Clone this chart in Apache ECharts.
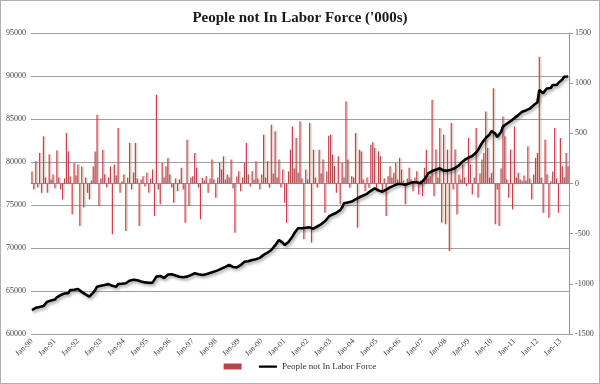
<!DOCTYPE html>
<html><head><meta charset="utf-8">
<script src="https://cdn.jsdelivr.net/npm/echarts@6/dist/echarts.min.js"></script>
<style>html,body{margin:0;padding:0;background:#fff}#c{width:598px;height:382px;border:1px solid #b0b0b0}</style>
</head><body><div id="c"></div>
<script>
var title = "People not In Labor Force ('000s)";
var lineName = "People not In Labor Force";
var monthNames = ["Jan","Feb","Mar","Apr","May","Jun","Jul","Aug","Sep","Oct","Nov","Dec"];
var years = ["90","91","92","93","94","95","96","97","98","99","00","01","02","03","04","05","06","07","08","09","10","11","12","13"];
var leftTicks = {min:60000, max:95000, interval:5000};
var rightTicks = {min:-1500, max:1500, interval:500};

// Level ('000s), Jan-90 .. May-13
var level = [
62790,62900,63050,63000,63150,63300,63250,63450,63760,63700,63900,64050,
64000,64250,64180,64530,64450,64700,64800,64750,65120,65000,65150,65300,
65230,65050,64900,64700,64600,64450,64340,64500,64800,65100,65500,65350,
65600,65750,65700,65930,65800,65850,65600,65750,65500,65800,65900,65850,
65950,65900,66080,66200,66150,66300,66400,66250,66300,66100,65930,66000,
66050,65950,65900,65970,65900,66670,66600,66750,66550,66510,66700,66900,
67090,66950,66850,66800,66700,66650,66480,66600,66550,66670,66750,66850,
66900,67060,67000,66950,66900,66850,66860,66950,67050,67100,67200,67250,
67350,67400,67550,67600,67700,67800,67850,68020,67900,67800,67640,67750,
67900,68000,68150,68410,68350,68450,68550,68600,68650,68700,68800,68850,
69000,69200,69300,69450,69550,69770,70000,70300,70600,70930,70800,70600,
70350,70500,70700,70930,71300,71700,72000,72290,72150,72300,72100,72350,
72480,72400,72300,72250,72330,72500,72600,72750,72910,73100,73350,73640,
73700,73900,74000,74100,74230,74400,74700,75200,75100,75300,75350,75400,
75580,75650,75750,75900,76000,76100,76170,76300,76500,76650,76800,76940,
76850,76700,76650,76550,76700,76800,76950,77050,77130,77250,77350,77440,
77500,77450,77400,77350,77440,77500,77600,77650,77710,77650,77600,77520,
77700,78000,78300,78680,78880,78950,79000,79100,79200,79270,79150,79000,
78880,79000,78950,79100,79250,79300,79460,79600,79850,80050,80250,80430,
80500,80600,80700,80820,81100,81400,81800,82180,82500,82800,83000,83200,
83600,83750,83300,82900,82760,83500,84110,84300,84450,84550,84750,84890,
85100,85300,85450,85650,85850,85900,86000,86050,86200,86350,86600,86830,
86950,88380,88250,87990,88300,88550,88400,88600,88960,88760,88950,89200,
89400,89600,89920,89850,89950
];

// Monthly change ('000s)
var change = [
120,-60,222,-40,305,-93,470,60,-93,288,40,90,
-50,330,60,-60,-160,50,503,320,70,-308,205,80,
190,-424,170,-240,60,-93,-160,30,170,320,685,-225,
50,337,90,-40,60,170,-506,190,80,553,-93,20,
90,-473,60,404,-60,110,404,50,-424,40,73,-30,
106,-93,50,139,-324,884,-60,-208,205,60,172,255,
90,-40,-192,50,-76,40,156,-60,-391,437,-225,60,
73,305,156,-40,-357,56,30,73,-93,50,238,40,
-142,60,205,139,271,40,89,60,238,-50,-490,70,
122,-76,60,205,404,89,-30,122,40,222,50,-60,
90,487,60,222,-43,586,100,520,60,238,-40,139,
-192,-391,120,337,569,150,453,106,619,50,-556,139,
40,602,-589,337,60,-43,337,100,238,-291,120,477,
487,288,172,-93,271,-208,205,60,818,238,-43,73,
60,503,-440,337,320,40,-76,60,-43,387,410,354,
-76,320,271,-93,50,-324,73,172,60,106,205,40,
255,139,30,-208,50,156,40,-76,60,122,-109,30,
-126,156,337,50,73,834,-126,338,60,553,-390,487,
-407,338,-672,602,-60,338,-308,89,40,189,60,-26,
453,189,-109,60,553,-142,100,238,305,718,354,60,
106,950,-407,-60,-424,150,669,470,40,-142,338,-258,
569,60,106,40,23,80,30,371,50,-159,90,255,
305,1264,60,-291,437,90,-341,23,120,553,50,-291,
453,172,60,305,172
];

var categories = [];
for (var y = 0; y < years.length; y++) {
  for (var m = 0; m < 12; m++) {
    if (categories.length < level.length) categories.push(monthNames[m] + "-" + years[y]);
  }
}

var serif = "'Liberation Serif', 'DejaVu Serif', serif";
var plain = function (v) { return String(v); };
var chart = echarts.init(document.getElementById('c'), null, {renderer:'canvas'});
chart.setOption({
  animation: false,
  backgroundColor: '#fff',
  title: {text: title, left: 'center', top: 5,
    textStyle: {fontFamily: serif, fontSize: 15, fontWeight: 'bold', color: '#1a1a1a'}},
  grid: {left: 30, right: 30, top: 32, bottom: 49, containLabel: false},
  legend: {
    bottom: 7, left: 'center', itemGap: 10, itemWidth: 18, itemHeight: 6,
    textStyle: {fontFamily: serif, fontSize: 9, color: '#333'},
    data: [
      {name: ' ', icon: 'rect', itemStyle: {color: '#b3474c'}},
      {name: lineName, icon: 'path://M0,0h0.01v0.01h-0.01z M0,2h20v2.4h-20z M19.99,5.99h0.01v0.01h-0.01z',
        itemStyle: {color: '#000', borderWidth: 0}}
    ]
  },
  xAxis: {
    type: 'category', data: categories, boundaryGap: true,
    axisLine: {lineStyle: {color: '#999'}},
    axisTick: {show: false},
    axisLabel: {
      interval: function (idx) { return idx % 12 === 0; },
      rotate: 45, fontFamily: serif, fontSize: 8, color: '#444', margin: 6
    }
  },
  yAxis: [
    {type: 'value', min: leftTicks.min, max: leftTicks.max, interval: leftTicks.interval,
      axisLine: {show: false}, axisTick: {show: false},
      splitLine: {lineStyle: {color: '#a0a0a0', width: 1}},
      axisLabel: {fontFamily: serif, fontSize: 8, color: '#444', margin: 5, formatter: plain}},
    {type: 'value', min: rightTicks.min, max: rightTicks.max, interval: rightTicks.interval,
      position: 'right',
      axisLine: {show: true, lineStyle: {color: '#999'}},
      axisTick: {show: true, length: 4, lineStyle: {color: '#999'}},
      splitLine: {show: false},
      axisLabel: {fontFamily: serif, fontSize: 8, color: '#444', margin: 6, formatter: plain}}
  ],
  series: [
    {name: ' ', type: 'bar', yAxisIndex: 1, data: change, barWidth: 1.2,
      itemStyle: {color: '#b3474c', shadowColor: 'rgba(200,120,120,0.45)', shadowBlur: 1, shadowOffsetX: 1.5}},
    {name: lineName, type: 'line', yAxisIndex: 0, data: level, symbol: 'none', z: 5,
      lineStyle: {color: '#000', width: 2.6, shadowColor: 'rgba(0,0,0,0.35)', shadowBlur: 3, shadowOffsetX: 1.5, shadowOffsetY: 2},
      itemStyle: {color: '#000'}}
  ]
});
</script></body></html>
